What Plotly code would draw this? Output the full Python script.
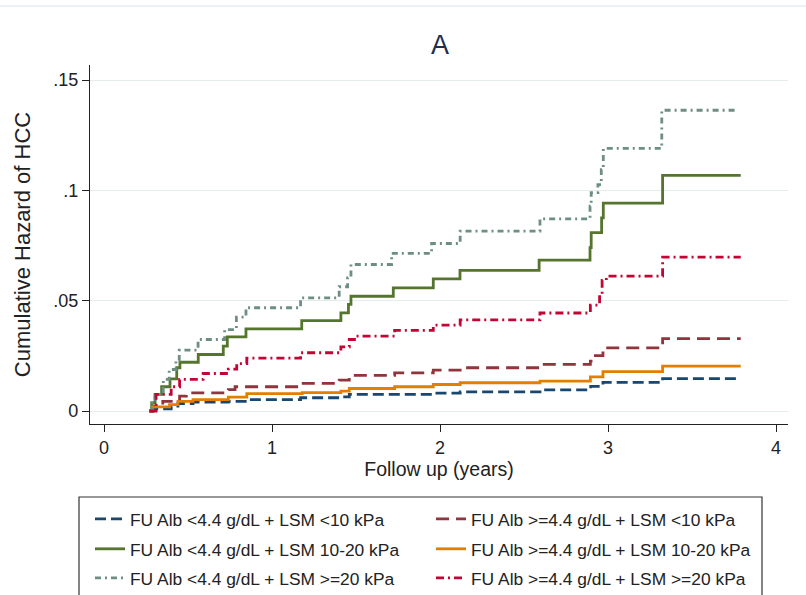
import plotly.graph_objects as go

# ---------------- data ----------------
navy_t = [0.27, 0.29, 0.40, 0.44, 0.53, 0.74, 0.85, 1.17, 1.41, 1.46, 1.96, 2.12, 2.595, 2.897, 2.97, 3.325, 3.79]
navy_v = [0, 0.001, 0.0022, 0.0034, 0.004, 0.0044, 0.0052, 0.006, 0.0064, 0.0075, 0.0081, 0.0087, 0.0096, 0.0112, 0.0130, 0.0147, 0.0147]

maroon_t = [0.27, 0.29, 0.35, 0.45, 0.49, 0.74, 0.78, 1.17, 1.40, 1.46, 1.73, 1.96, 2.12, 2.59, 2.895, 2.91, 2.97, 3.325, 3.79]
maroon_v = [0, 0.0022, 0.0044, 0.0067, 0.0082, 0.0097, 0.011, 0.0125, 0.014, 0.0161, 0.0173, 0.0185, 0.0196, 0.0211, 0.0226, 0.0251, 0.0286, 0.0328, 0.0328]

green_t = [0.27, 0.284, 0.304, 0.343, 0.393, 0.433, 0.452, 0.561, 0.71, 0.734, 0.845, 1.177, 1.41, 1.455, 1.47, 1.722, 1.96, 2.119, 2.59, 2.893, 2.90, 2.962, 2.972, 3.325, 3.79]
green_v = [0, 0.0037, 0.0075, 0.011, 0.0146, 0.0196, 0.0221, 0.0256, 0.0294, 0.0336, 0.0372, 0.041, 0.0445, 0.0483, 0.052, 0.0558, 0.0599, 0.0637, 0.0684, 0.074, 0.0808, 0.0875, 0.0942, 0.1068, 0.1068]

orange_t = [0.27, 0.29, 0.39, 0.44, 0.53, 0.74, 0.85, 1.18, 1.41, 1.46, 1.73, 1.96, 2.12, 2.595, 2.895, 2.97, 3.325, 3.79]
orange_v = [0, 0.0019, 0.0029, 0.0044, 0.0052, 0.0063, 0.0079, 0.0083, 0.009, 0.0102, 0.011, 0.012, 0.0128, 0.0135, 0.0155, 0.0178, 0.0203, 0.0203]

teal_t = [0.27, 0.285, 0.304, 0.353, 0.388, 0.428, 0.448, 0.56, 0.718, 0.788, 0.845, 1.17, 1.40, 1.45, 1.47, 1.712, 1.95, 2.12, 2.595, 2.893, 2.90, 2.94, 2.96, 2.972, 3.32, 3.766]
teal_v = [0, 0.0037, 0.0075, 0.0143, 0.0188, 0.0229, 0.0276, 0.0324, 0.0369, 0.0425, 0.0468, 0.0513, 0.0563, 0.0603, 0.0664, 0.0714, 0.0759, 0.0815, 0.0871, 0.0928, 0.099, 0.1026, 0.1094, 0.119, 0.1363, 0.1363]

cran_t = [0.27, 0.31, 0.40, 0.45, 0.59, 0.74, 0.79, 0.85, 1.17, 1.41, 1.46, 1.50, 1.73, 1.96, 2.12, 2.595, 2.895, 2.95, 2.965, 2.99, 3.325, 3.79]
cran_v = [0, 0.0075, 0.011, 0.0143, 0.017, 0.019, 0.0215, 0.024, 0.0264, 0.0291, 0.0324, 0.0339, 0.0365, 0.0389, 0.0413, 0.0444, 0.048, 0.0528, 0.0592, 0.0611, 0.0697, 0.0697]

series_names = [
    "FU Alb <4.4 g/dL + LSM <10 kPa",
    "FU Alb >=4.4 g/dL + LSM <10 kPa",
    "FU Alb <4.4 g/dL + LSM 10-20 kPa",
    "FU Alb >=4.4 g/dL + LSM 10-20 kPa",
    "FU Alb <4.4 g/dL + LSM >=20 kPa",
    "FU Alb >=4.4 g/dL + LSM >=20 kPa",
]

y_tickvals = [0, 0.05, 0.1, 0.15]
y_ticktext = ["0", ".05", ".1", ".15"]
x_tickvals = [0, 1, 2, 3, 4]

# ---------------- styling ----------------
FONT = "Liberation Sans, Arial, sans-serif"
styles = [
    dict(color="#1a476f", dash="11px,5px"),
    dict(color="#90353b", dash="13px,7px"),
    dict(color="#55752f", dash="solid"),
    dict(color="#e37e00", dash="solid"),
    dict(color="#6e8e84", dash="6px,4px,2px,4px"),
    dict(color="#c10534", dash="8px,4px,2px,4px"),
]
data = [(navy_t, navy_v), (maroon_t, maroon_v), (green_t, green_v),
        (orange_t, orange_v), (teal_t, teal_v), (cran_t, cran_v)]
legend_ids = ["legend", "legend", "legend2", "legend2", "legend3", "legend3"]

fig = go.Figure()
for (t, v), name, st, lg in zip(data, series_names, styles, legend_ids):
    fig.add_trace(go.Scatter(
        x=t, y=v, mode="lines", name=name, line_shape="hv",
        line=dict(color=st["color"], dash=st["dash"], width=2.8),
        legend=lg,
    ))

W, H = 806, 595
L, R, T, B = 90, 788, 65, 424
def px_x(p):
    return (p - L) / (R - L)
def px_y(p):
    return (B - p) / (B - T)

leg_common = dict(orientation="h", xanchor="left", yanchor="middle",
                  xref="container", yref="container",
                  entrywidth=296, entrywidthmode="pixels", itemwidth=30,
                  font=dict(family=FONT, size=17.4, color="#222"),
                  bgcolor="rgba(0,0,0,0)", borderwidth=0, tracegroupgap=0)

fig.update_layout(
    width=W, height=H,
    margin=dict(l=L, r=W - R, t=T, b=H - B, autoexpand=False),
    paper_bgcolor="white", plot_bgcolor="white",
    font=dict(family=FONT, size=18, color="#222"),
    title=dict(text="A", xref="container", yref="container",
               x=440 / W, xanchor="center", y=1 - 45 / H, yanchor="middle",
               font=dict(family=FONT, size=27, color="#1c2f50")),
    xaxis=dict(range=[-14 / 168, 4 + 12 / 168], tickvals=x_tickvals,
               showgrid=False, zeroline=False, showline=True, linecolor="#222", linewidth=1.3,
               ticks="outside", ticklen=7, tickwidth=1.3, tickcolor="#222",
               tickfont=dict(family=FONT, size=18, color="#222"),
               title=dict(text="Follow up (years)", standoff=4,
                          font=dict(family=FONT, size=19.5, color="#222"))),
    yaxis=dict(range=[-13 / 2207, 0.15 + 15 / 2207], tickvals=y_tickvals, ticktext=y_ticktext,
               showgrid=True, gridcolor="#e4eced", gridwidth=1, zeroline=False,
               showline=True, linecolor="#222", linewidth=1.3,
               ticks="outside", ticklen=7, tickwidth=1.3, tickcolor="#222",
               tickfont=dict(family=FONT, size=18, color="#222"),
               title=dict(text="Cumulative Hazard of HCC", standoff=16,
                          font=dict(family=FONT, size=22, color="#222"))),
    legend=dict(leg_common, x=90 / W, y=1 - 519 / H),
    legend2=dict(leg_common, x=90 / W, y=1 - 549 / H),
    legend3=dict(leg_common, x=90 / W, y=1 - 578 / H),
    showlegend=True,
)

# legend frame and outer top border
fig.add_shape(type="rect", xref="paper", yref="paper",
              x0=px_x(79), x1=px_x(762), y0=px_y(600), y1=px_y(497),
              line=dict(color="#333", width=1.2), fillcolor="rgba(0,0,0,0)", layer="below")
fig.add_shape(type="line", xref="paper", yref="paper",
              x0=px_x(0), x1=px_x(806), y0=px_y(6), y1=px_y(6),
              line=dict(color="#e6eef0", width=1.5))

fig.write_html("out.html", config={"displayModeBar": False},
               post_script="document.body.style.margin='0';")
